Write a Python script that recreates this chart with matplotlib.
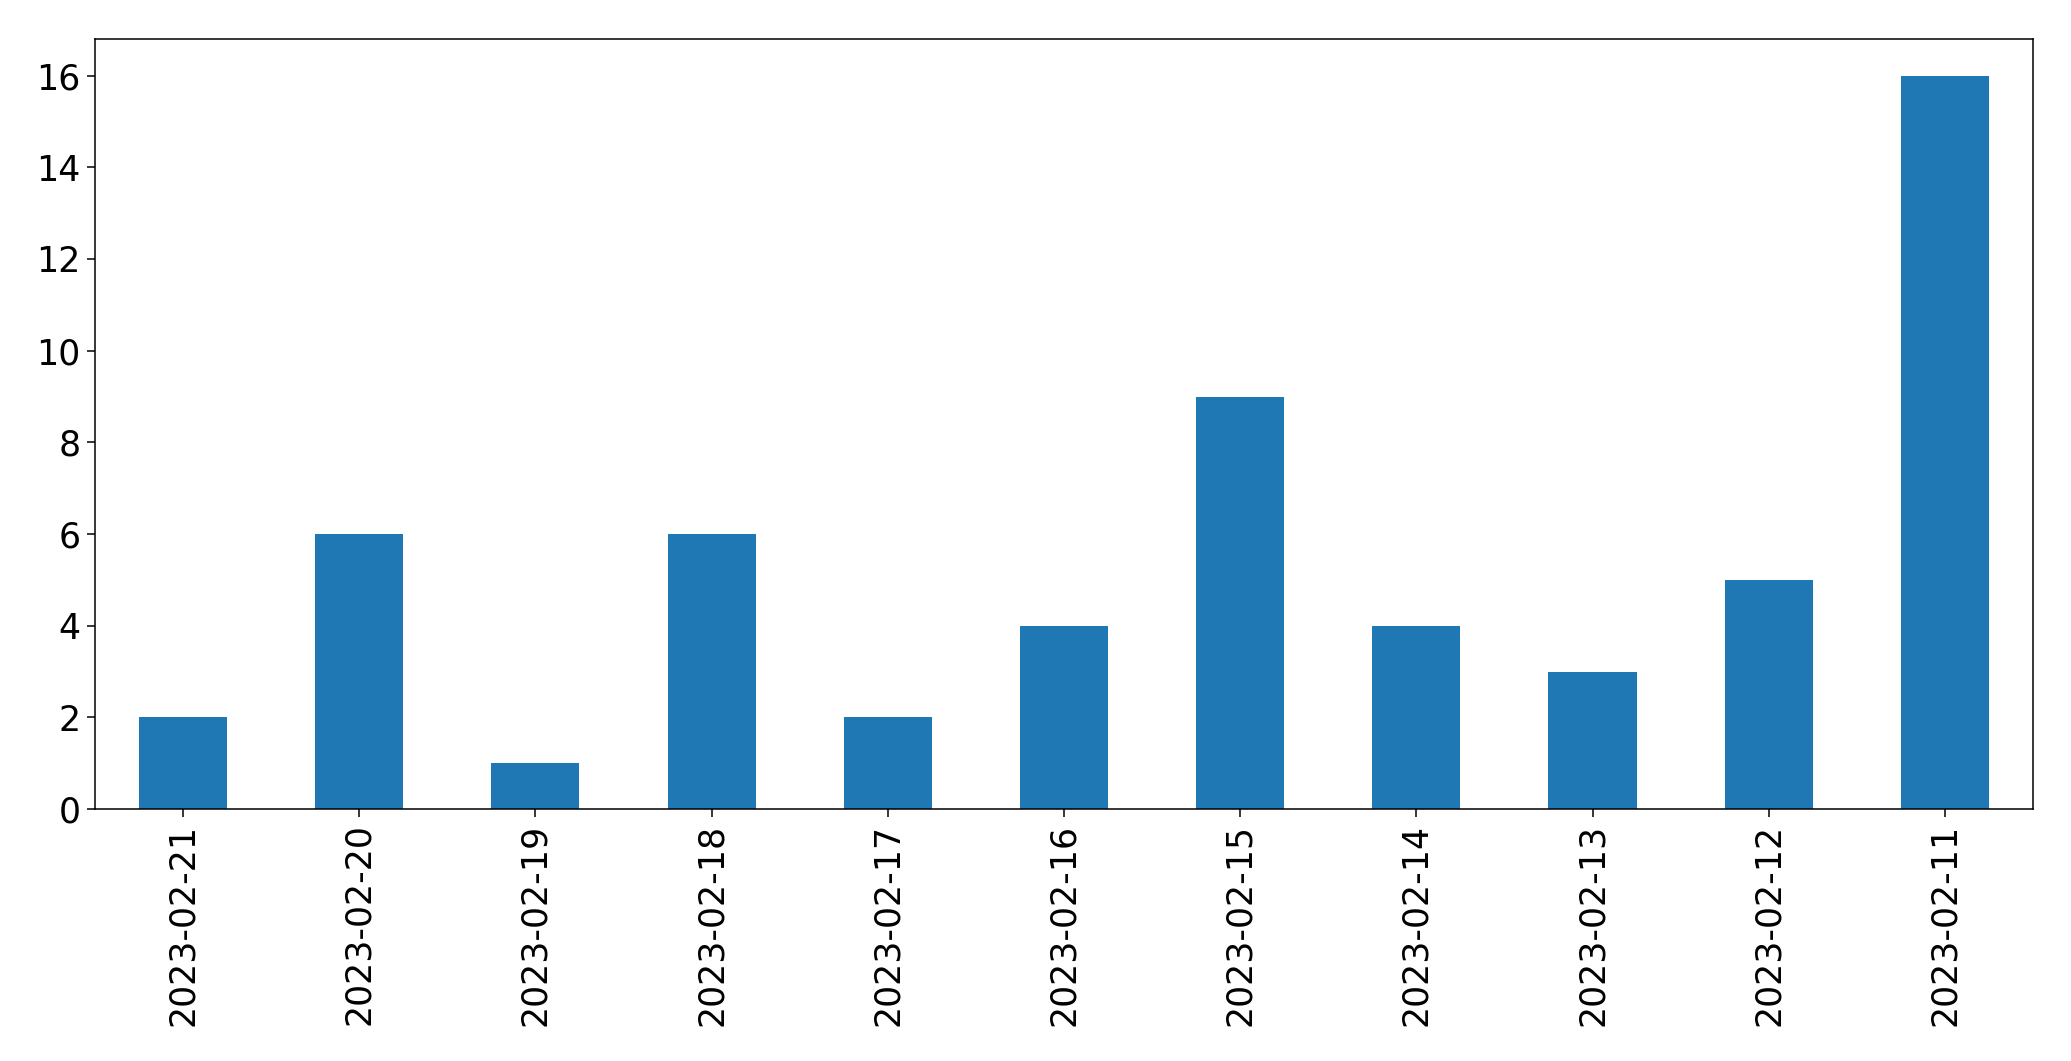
import matplotlib
matplotlib.use("Agg")
import matplotlib.pyplot as plt
import pandas as pd

# 날짜별 건수 (최근 날짜부터)
dates  = ["2023-02-21", "2023-02-20", "2023-02-19", "2023-02-18", "2023-02-17",
          "2023-02-16", "2023-02-15", "2023-02-14", "2023-02-13", "2023-02-12",
          "2023-02-11"]
counts = [2, 6, 1, 6, 2, 4, 9, 4, 3, 5, 16]

W, H, DPI = 2071, 1061, 100

s = pd.Series(counts, index=dates)

fig, ax = plt.subplots(figsize=(W / DPI, H / DPI), dpi=DPI)
fig.subplots_adjust(left=95 / W, right=2033 / W, top=1 - 39 / H, bottom=1 - 809 / H)

s.plot(kind="bar", ax=ax, color="#1f77b4", width=0.5)

ax.tick_params(axis="both", labelsize=25, length=5.5, width=1.1, pad=5)
ax.tick_params(axis="x", labelrotation=90)
for sp in ax.spines.values():
    sp.set_linewidth(1.1)

fig.savefig("out.png", dpi=DPI)
